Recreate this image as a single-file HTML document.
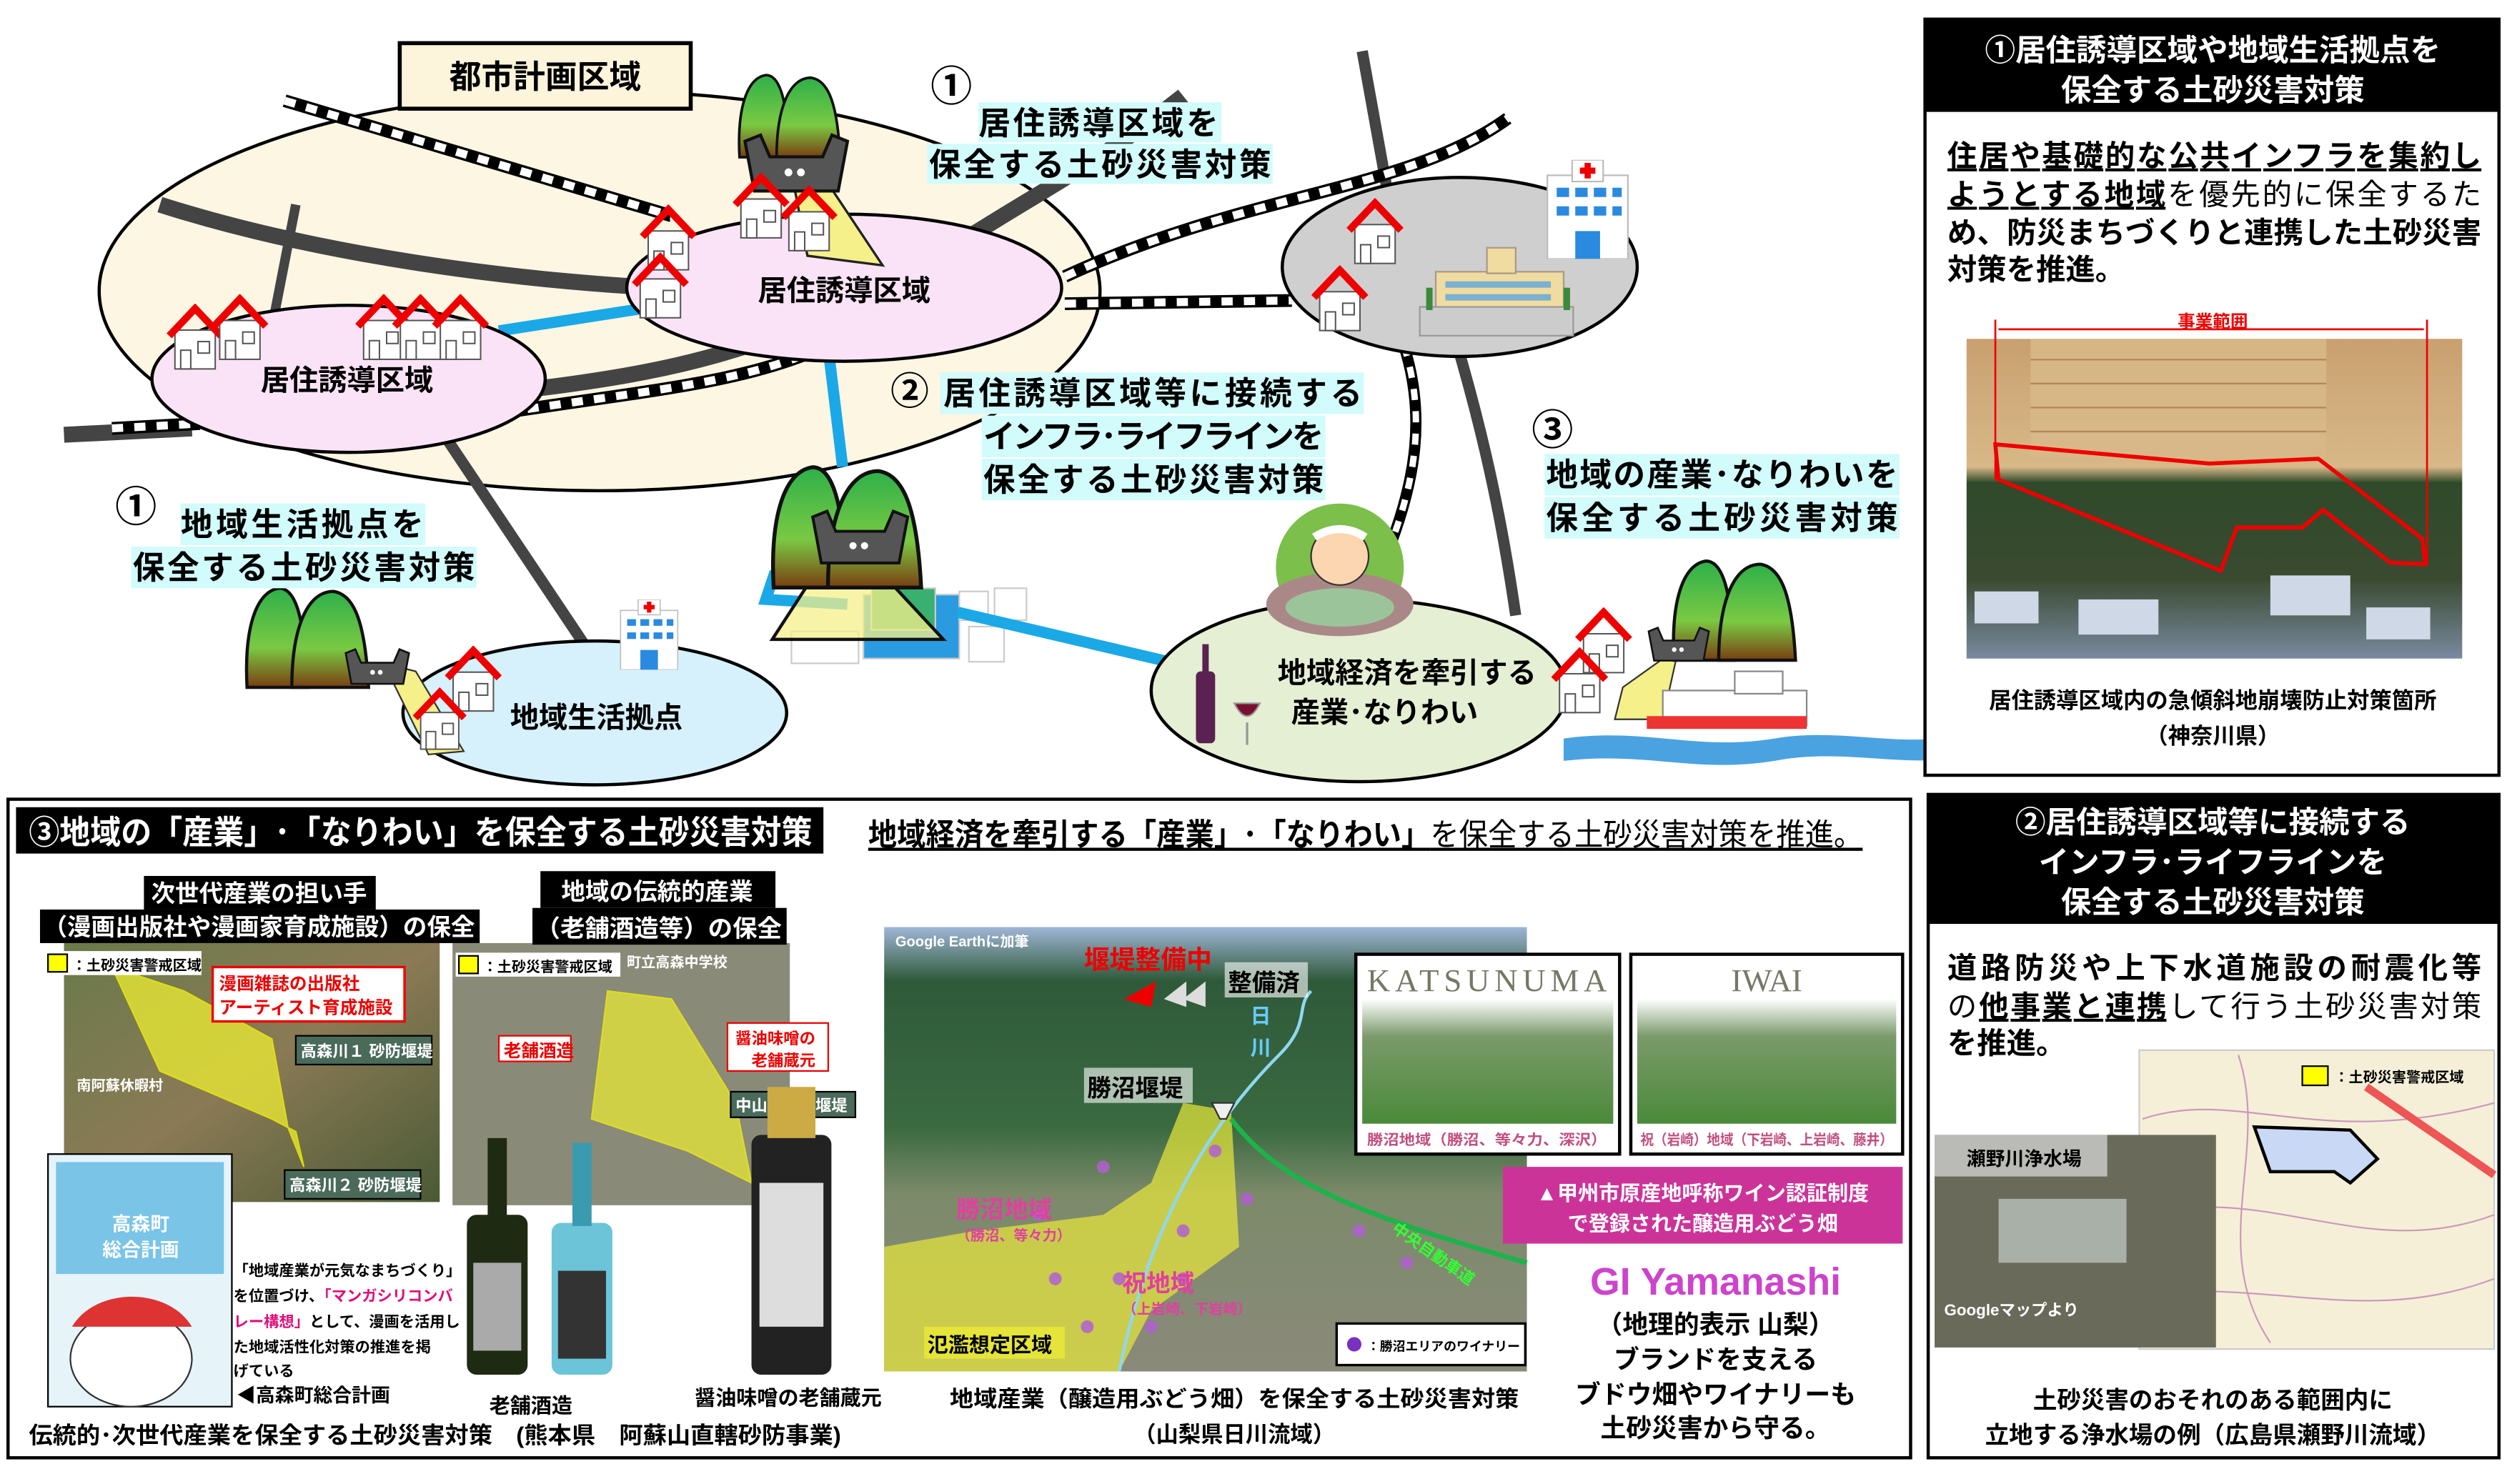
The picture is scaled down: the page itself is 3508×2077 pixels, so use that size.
<!DOCTYPE html>
<html><head><meta charset="utf-8"><style>
html,body{margin:0;padding:0;background:#fff;}
svg{display:block;}
text{font-family:"Liberation Sans","Noto Sans CJK JP",sans-serif;font-weight:bold;}
</style></head><body>
<svg width="3508" height="2077" viewBox="0 0 1568 928.4" xmlns="http://www.w3.org/2000/svg">
<defs>
<symbol id="house" viewBox="0 0 40 46">
<rect x="6" y="18" width="28" height="27" fill="#fff" stroke="#555" stroke-width="1"/>
<path d="M2 22 L20 3 L38 22" fill="none" stroke="#e00" stroke-width="5"/>
<rect x="10" y="32" width="7" height="13" fill="#fff" stroke="#555"/>
<rect x="22" y="26" width="8" height="8" fill="#fff" stroke="#555"/>
</symbol>
<linearGradient id="mg" x1="0" y1="0" x2="0" y2="1"><stop offset="0" stop-color="#2eb04a"/><stop offset="0.6" stop-color="#7ac943"/><stop offset="1" stop-color="#7a3e12"/></linearGradient>
<symbol id="mount" viewBox="0 0 80 70">
<path d="M2 68 C0 30 8 8 22 6 C34 6 38 30 40 68Z" fill="url(#mg)" stroke="#111" stroke-width="2"/>
<path d="M30 68 C30 30 40 8 56 8 C70 10 76 30 78 68Z" fill="url(#mg)" stroke="#111" stroke-width="2"/>
</symbol>
<symbol id="dam" viewBox="0 0 70 40">
<path d="M2 6 L12 2 L18 16 L52 16 L58 2 L68 6 L62 38 L8 38Z" fill="#555" stroke="#111" stroke-width="2"/>
<circle cx="30" cy="26" r="2.5" fill="#fff"/><circle cx="38" cy="26" r="2.5" fill="#fff"/>
</symbol>
<symbol id="hosp" viewBox="0 0 56 64">
<rect x="2" y="10" width="52" height="54" fill="#fff" stroke="#bbb"/>
<rect x="18" y="0" width="20" height="14" fill="#fff" stroke="#bbb"/>
<path d="M28 2 v10 M23 7 h10" stroke="#e00" stroke-width="4"/>
<g fill="#2a8ae0"><rect x="8" y="18" width="8" height="6"/><rect x="20" y="18" width="8" height="6"/><rect x="32" y="18" width="8" height="6"/><rect x="44" y="18" width="6" height="6"/>
<rect x="8" y="30" width="8" height="6"/><rect x="20" y="30" width="8" height="6"/><rect x="32" y="30" width="8" height="6"/><rect x="44" y="30" width="6" height="6"/>
<rect x="20" y="46" width="16" height="18"/></g>
</symbol>
<linearGradient id="sat" x1="0" y1="0" x2="1" y2="1"><stop offset="0" stop-color="#6a7a4a"/><stop offset="0.5" stop-color="#8a7a55"/><stop offset="1" stop-color="#4a5a35"/></linearGradient>
<linearGradient id="aer" x1="0" y1="0" x2="0" y2="1"><stop offset="0" stop-color="#9fb6d6"/><stop offset="0.12" stop-color="#2f5a3a"/><stop offset="0.45" stop-color="#3a6a40"/><stop offset="0.6" stop-color="#7c8a6a"/><stop offset="1" stop-color="#8a8a7a"/></linearGradient>
<linearGradient id="vine" x1="0" y1="0" x2="0" y2="1"><stop offset="0" stop-color="#fff"/><stop offset="0.3" stop-color="#7a9a6a"/><stop offset="1" stop-color="#4a8a3a"/></linearGradient>
<linearGradient id="apt" x1="0" y1="0" x2="0" y2="1"><stop offset="0" stop-color="#c9a070"/><stop offset="0.4" stop-color="#d8b888"/><stop offset="0.45" stop-color="#2f4a2a"/><stop offset="0.75" stop-color="#3a4a30"/><stop offset="1" stop-color="#7a8aa0"/></linearGradient>
</defs>

<!-- ===== Top diagram ===== -->
<ellipse cx="375" cy="182" rx="313" ry="125" fill="#fdf6e3" stroke="#000" stroke-width="2"/>
<g stroke="#444" stroke-width="10" fill="none">
<path d="M100 128 C200 160 320 175 410 180"/>
<path d="M600 152 C650 120 690 100 740 60"/>
<path d="M40 272 L120 268"/>
<path d="M320 245 C380 238 430 230 480 212"/>
<path d="M185 128 L170 205" stroke-width="6"/>
<path d="M275 268 L370 410" stroke-width="7"/>
<path d="M852 32 L870 132" stroke-width="7"/>
<path d="M912 218 C930 280 940 330 948 385" stroke-width="7"/>
</g>
<g fill="none">
<path d="M178 63 L420 135" stroke="#000" stroke-width="8"/><path d="M178 63 L420 135" stroke="#fff" stroke-width="5" stroke-dasharray="7 7"/>
<path d="M666 173 C780 120 880 120 943 74" stroke="#000" stroke-width="8"/><path d="M666 173 C780 120 880 120 943 74" stroke="#fff" stroke-width="5" stroke-dasharray="7 7"/>
<path d="M666 190 L808 188" stroke="#000" stroke-width="8"/><path d="M666 190 L808 188" stroke="#fff" stroke-width="5" stroke-dasharray="7 7"/>
<path d="M70 268 L125 265" stroke="#000" stroke-width="8"/><path d="M70 268 L125 265" stroke="#fff" stroke-width="5" stroke-dasharray="7 7"/>
<path d="M316 258 C400 245 460 240 508 220" stroke="#000" stroke-width="8"/><path d="M316 258 C400 245 460 240 508 220" stroke="#fff" stroke-width="5" stroke-dasharray="7 7"/>
<path d="M878 216 C892 260 885 300 870 340" stroke="#000" stroke-width="7"/><path d="M878 216 C892 260 885 300 870 340" stroke="#fff" stroke-width="4" stroke-dasharray="7 7"/>
</g>
<!-- water plant -->
<g stroke="#ccc" stroke-width="1">
<rect x="540" y="372" width="60" height="40" fill="#2a9be0"/>
<rect x="545" y="368" width="40" height="26" fill="#3ab070"/>
<rect x="600" y="370" width="18" height="18" fill="#fff"/><rect x="622" y="368" width="20" height="20" fill="#fff"/>
<rect x="606" y="392" width="22" height="22" fill="#fff"/>
<rect x="495" y="395" width="42" height="20" fill="#fff"/>
</g>
<g stroke="#1aa9e6" stroke-width="7" fill="none">
<path d="M312 207 L402 193"/>
<path d="M518 218 L527 292"/>
<path d="M535 354 L484 360 L479 375 L530 378"/>
<path d="M599 383 L731 414"/>
</g>
<ellipse cx="528" cy="180" rx="136" ry="46" fill="#fbe3f7" stroke="#000" stroke-width="2"/>
<ellipse cx="218" cy="237" rx="123" ry="46" fill="#fbe3f7" stroke="#000" stroke-width="2"/>
<ellipse cx="913" cy="167" rx="111" ry="56" fill="#cfcfcf" stroke="#000" stroke-width="2"/>
<ellipse cx="372" cy="446" rx="120" ry="45" fill="#d6f1fc" stroke="#000" stroke-width="2"/>
<ellipse cx="850" cy="432" rx="130" ry="57" fill="#e5efd3" stroke="#000" stroke-width="2"/>
<rect x="250" y="27" width="182" height="41" fill="#fdf4dc" stroke="#000" stroke-width="2.5"/>
<text x="341" y="55" font-size="20" text-anchor="middle">都市計画区域</text>

<polygon points="497,118 520,118 552,166 505,160" fill="#f5f08a" stroke="#222" stroke-width="1.5"/>
<polygon points="520,343 537,343 590,400 483,400" fill="#f5f08a" fill-opacity="0.75" stroke="#111" stroke-width="2"/>
<polygon points="240,415 260,420 290,470 268,472" fill="#f5f08a" stroke="#333"/>
<polygon points="1050,405 1040,450 1010,450 1015,430" fill="#f5f08a" stroke="#333"/>

<use href="#mount" x="458" y="42" width="72" height="58"/>
<use href="#dam" x="464" y="82" width="68" height="40"/>
<use href="#mount" x="479" y="285" width="102" height="85"/>
<use href="#dam" x="501" y="318" width="74" height="36"/>
<use href="#mount" x="150" y="362" width="85" height="70"/>
<use href="#dam" x="215" y="398" width="42" height="38"/>
<use href="#mount" x="1045" y="340" width="80" height="80"/>
<use href="#dam" x="1030" y="385" width="40" height="36"/>
<use href="#house" x="458" y="108" width="36" height="42"/>
<use href="#house" x="488" y="116" width="36" height="42"/>
<use href="#house" x="400" y="128" width="36" height="42"/>
<use href="#house" x="395" y="158" width="36" height="42"/>
<use href="#house" x="104" y="190" width="36" height="42"/>
<use href="#house" x="132" y="184" width="36" height="42"/>
<use href="#house" x="222" y="184" width="36" height="42"/>
<use href="#house" x="245" y="184" width="36" height="42"/>
<use href="#house" x="270" y="184" width="36" height="42"/>
<use href="#house" x="842" y="124" width="36" height="42"/>
<use href="#house" x="820" y="166" width="36" height="42"/>
<use href="#house" x="278" y="404" width="36" height="42"/>
<use href="#house" x="258" y="430" width="34" height="40"/>
<use href="#house" x="985" y="380" width="36" height="42"/>
<use href="#house" x="970" y="405" width="36" height="42"/>
<use href="#hosp" x="965" y="100" width="56" height="62"/>
<use href="#hosp" x="385" y="375" width="42" height="44"/>
<rect x="898" y="170" width="80" height="24" fill="#f0dca0" stroke="#a98"/>
<rect x="930" y="155" width="18" height="16" fill="#f0dca0" stroke="#a98"/>
<g fill="#7ab0d0"><rect x="904" y="176" width="66" height="4"/><rect x="904" y="184" width="66" height="4"/></g>
<rect x="888" y="192" width="96" height="18" fill="#ccc" stroke="#999"/>
<g fill="#3a8a3a"><rect x="892" y="180" width="4" height="14"/><rect x="978" y="180" width="4" height="14"/></g>
<circle cx="838" cy="355" r="40" fill="#7cbf4a"/>
<ellipse cx="838" cy="378" rx="46" ry="20" fill="#a88" />
<ellipse cx="838" cy="380" rx="34" ry="12" fill="#9cc49a"/>
<circle cx="838" cy="348" r="18" fill="#fcd6b0" stroke="#333"/>
<path d="M822 336 Q838 326 854 336" stroke="#fff" stroke-width="5" fill="none"/>
<rect x="748" y="420" width="12" height="45" rx="3" fill="#5a2250"/>
<rect x="752" y="403" width="4" height="18" fill="#5a2250"/>
<path d="M772 440 Q780 456 788 440 Z" fill="#7a1030" stroke="#999"/><line x1="780" y1="452" x2="780" y2="466" stroke="#999" stroke-width="1.5"/>
<rect x="1040" y="432" width="90" height="22" fill="#fff" stroke="#888"/>
<rect x="1085" y="420" width="30" height="14" fill="#fff" stroke="#888"/>
<rect x="1030" y="448" width="100" height="8" fill="#e33"/>
<path d="M978 462 C1030 455 1060 470 1110 462 C1150 455 1190 468 1222 460 L1224 474 C1190 480 1150 468 1110 476 C1060 484 1030 470 978 476 Z" fill="#4aa3e0"/>

<g font-size="18" text-anchor="middle">
<text x="528" y="188">居住誘導区域</text>
<text x="217" y="244">居住誘導区域</text>
<text x="373" y="455">地域生活拠点</text>
<text x="880" y="427">地域経済を牽引する</text>
<text x="866" y="452">産業･なりわい</text>
</g>
<g fill="#d2fbfb">
<rect x="612" y="64" width="152" height="25"/><rect x="580" y="90" width="216" height="25"/>
<rect x="588" y="233" width="265" height="26"/><rect x="614" y="260" width="215" height="26"/><rect x="614" y="287" width="215" height="26"/>
<rect x="966" y="284" width="222" height="26"/><rect x="966" y="311" width="222" height="26"/>
<rect x="113" y="315" width="153" height="26"/><rect x="82" y="342" width="216" height="26"/>
</g>
<g font-size="20">
<text x="582" y="63" font-size="26" font-weight="normal">①</text>
<text x="612" y="84" textLength="150">居住誘導区域を</text>
<text x="581" y="110" textLength="214">保全する土砂災害対策</text>
<text x="557" y="253" font-size="24" font-weight="normal">②</text>
<text x="590" y="253" textLength="262">居住誘導区域等に接続する</text>
<text x="615" y="280" textLength="213">インフラ･ライフラインを</text>
<text x="615" y="307" textLength="213">保全する土砂災害対策</text>
<text x="958" y="278" font-size="26" font-weight="normal">③</text>
<text x="967" y="304" textLength="220">地域の産業･なりわいを</text>
<text x="967" y="331" textLength="220">保全する土砂災害対策</text>
<text x="72" y="326" font-size="26" font-weight="normal">①</text>
<text x="113" y="335" textLength="152">地域生活拠点を</text>
<text x="83" y="362" textLength="214">保全する土砂災害対策</text>
</g>

<!-- ===== Right top panel ===== -->
<rect x="1204" y="12" width="359" height="473" fill="#fff" stroke="#000" stroke-width="2"/>
<rect x="1204" y="12" width="359" height="58" fill="#000"/>
<g font-size="19" fill="#fff" text-anchor="middle"><text x="1384" y="38">①居住誘導区域や地域生活拠点を</text><text x="1384" y="63">保全する土砂災害対策</text></g>
<g font-size="18.5">
<text x="1218" y="104" text-decoration="underline" textLength="334">住居や基礎的な公共インフラを集約し</text>
<text x="1218" y="128" textLength="334"><tspan text-decoration="underline">ようとする地域</tspan><tspan font-weight="normal">を優先的に保全するた</tspan></text>
<text x="1218" y="152" font-weight="normal" textLength="334">め、防災まちづくりと連携した土砂災害</text>
<text x="1218" y="175" font-weight="normal">対策を推進。</text>
</g>
<rect x="1230" y="212" width="310" height="200" fill="url(#apt)"/>
<rect x="1270" y="212" width="185" height="75" fill="#d8b888" opacity="0.9"/>
<g stroke="#b08858" stroke-width="1"><line x1="1270" y1="225" x2="1455" y2="225"/><line x1="1270" y1="240" x2="1455" y2="240"/><line x1="1270" y1="255" x2="1455" y2="255"/><line x1="1270" y1="270" x2="1455" y2="270"/></g>
<g fill="#cfd8e6"><rect x="1235" y="370" width="40" height="20"/><rect x="1300" y="375" width="50" height="22"/><rect x="1420" y="360" width="50" height="25"/><rect x="1480" y="380" width="40" height="20"/></g>
<path d="M1248 278 L1382 290 L1450 287 L1515 337 L1517 353 L1495 352 L1453 319 L1440 330 L1399 330 L1389 357 L1250 300Z" fill="none" stroke="#e00" stroke-width="2.5"/>
<path d="M1248 200 V300 M1518 200 V353 M1250 206 H1516" stroke="#e00" stroke-width="1.2" fill="none"/>
<text x="1384" y="205" font-size="11" fill="#e00" text-anchor="middle">事業範囲</text>
<g font-size="14" text-anchor="middle"><text x="1384" y="443">居住誘導区域内の急傾斜地崩壊防止対策箇所</text><text x="1384" y="465">（神奈川県）</text></g>

<!-- ===== Right bottom panel ===== -->
<rect x="1206" y="497" width="357" height="415" fill="#fff" stroke="#000" stroke-width="2"/>
<rect x="1206" y="497" width="357" height="81" fill="#000"/>
<g font-size="19" fill="#fff" text-anchor="middle" font-weight="normal"><text x="1384" y="521">②居住誘導区域等に接続する</text><text x="1384" y="546">インフラ･ライフラインを</text><text x="1384" y="571">保全する土砂災害対策</text></g>
<g font-size="18.5">
<text x="1218" y="612" font-weight="normal" textLength="334">道路防災や上下水道施設の耐震化等</text>
<text x="1218" y="636" textLength="334"><tspan font-weight="normal">の</tspan><tspan text-decoration="underline">他事業と連携</tspan><tspan font-weight="normal">して行う土砂災害対策</tspan></text>
<text x="1218" y="659" font-weight="normal">を推進。</text>
</g>
<rect x="1338" y="657" width="222" height="187" fill="#f5efd8" stroke="#ccc"/>
<g stroke="#c9b" stroke-width="1" fill="none"><path d="M1340 700 C1400 680 1450 720 1560 690"/><path d="M1340 760 C1420 740 1480 790 1560 760"/><path d="M1340 810 C1420 800 1480 830 1560 800"/><path d="M1400 660 C1420 720 1380 780 1420 840"/></g>
<path d="M1480 680 L1560 735" stroke="#e55" stroke-width="5"/>
<polygon points="1410,705 1470,707 1487,725 1470,740 1460,733 1420,733" fill="#c9d8f4" stroke="#000" stroke-width="2"/>
<rect x="1440" y="667" width="16" height="12" fill="#ff0" stroke="#000"/>
<text x="1460" y="677" font-size="9" font-weight="normal">：土砂災害警戒区域</text>
<rect x="1210" y="710" width="176" height="133" fill="#6a6a5a"/>
<rect x="1250" y="750" width="80" height="40" fill="#a9b0a8"/>
<rect x="1210" y="710" width="108" height="26" fill="#ddd" opacity="0.7"/>
<text x="1230" y="729" font-size="12">瀬野川浄水場</text>
<text x="1216" y="823" font-size="10" fill="#fff">Googleマップより</text>
<g font-size="15" text-anchor="middle"><text x="1384" y="881">土砂災害のおそれのある範囲内に</text><text x="1384" y="903">立地する浄水場の例（広島県瀬野川流域）</text></g>

<!-- ===== Bottom left panel ===== -->
<rect x="5" y="500" width="1190" height="412" fill="#fff" stroke="#000" stroke-width="2"/>
<rect x="10" y="505" width="505" height="29" fill="#000"/>
<text x="18" y="528" font-size="20.5" fill="#fff" font-weight="normal" textLength="490" lengthAdjust="spacingAndGlyphs">③地域の「産業」･「なりわい」を保全する土砂災害対策</text>
<text x="543" y="529" font-size="19.5" text-decoration="underline" textLength="622" lengthAdjust="spacingAndGlyphs">地域経済を牽引する「産業」･「なりわい」<tspan font-weight="normal">を保全する土砂災害対策を推進。</tspan></text>

<rect x="40" y="590" width="235" height="162" fill="url(#sat)"/>
<polygon points="70,605 100,670 170,700 185,708 190,730 180,705 170,650 115,620" fill="#eeee33" opacity="0.75" stroke="#ff0"/>
<rect x="28" y="595" width="98" height="15" fill="#fff"/><rect x="30" y="597" width="12" height="11" fill="#ff0" stroke="#000"/>
<text x="45" y="607" font-size="9" font-weight="normal">：土砂災害警戒区域</text>
<rect x="133" y="605" width="120" height="34" fill="#fff" stroke="#e00" stroke-width="1.5"/>
<text x="137" y="619" font-size="11" fill="#e00" font-weight="normal">漫画雑誌の出版社</text><text x="137" y="634" font-size="11" fill="#e00" font-weight="normal">アーティスト育成施設</text>
<rect x="185" y="648" width="85" height="18" fill="#4a6a5a" stroke="#000"/><text x="188" y="661" font-size="10" fill="#fff" font-weight="normal">高森川１ 砂防堰堤</text>
<rect x="178" y="732" width="85" height="18" fill="#4a6a5a" stroke="#000"/><text x="181" y="745" font-size="10" fill="#fff" font-weight="normal">高森川２ 砂防堰堤</text>
<text x="48" y="682" font-size="9" fill="#fff" font-weight="normal">南阿蘇休暇村</text>
<rect x="283" y="590" width="211" height="164" fill="#8a8a78"/>
<polygon points="380,620 420,625 460,690 470,740 430,720 370,700" fill="#eeee33" opacity="0.7" stroke="#ff0"/>
<rect x="285" y="596" width="103" height="15" fill="#fff"/><rect x="287" y="598" width="12" height="11" fill="#ff0" stroke="#000"/>
<text x="302" y="608" font-size="9" font-weight="normal">：土砂災害警戒区域</text>
<text x="392" y="605" font-size="9" font-weight="normal" fill="#fff">町立高森中学校</text>
<rect x="312" y="648" width="45" height="16" fill="#fff" stroke="#e00"/><text x="315" y="661" font-size="11" fill="#e00" font-weight="normal">老舗酒造</text>
<rect x="455" y="640" width="63" height="30" fill="#fff" stroke="#e00"/><text x="460" y="653" font-size="10" fill="#e00" font-weight="normal">醤油味噌の</text><text x="470" y="667" font-size="10" fill="#e00" font-weight="normal">老舗蔵元</text>
<rect x="457" y="683" width="78" height="16" fill="#4a6a5a" stroke="#000"/><text x="460" y="695" font-size="10" fill="#fff" font-weight="normal">中山川砂防堰堤</text>
<rect x="90" y="548" width="145" height="21" fill="#000"/><rect x="25" y="569" width="275" height="21" fill="#000"/>
<rect x="338" y="545" width="147" height="23" fill="#000"/><rect x="333" y="568" width="159" height="23" fill="#000"/>
<g font-size="15" fill="#fff" text-anchor="middle"><text x="162" y="564">次世代産業の担い手</text><text x="162" y="585" textLength="270" lengthAdjust="spacingAndGlyphs">（漫画出版社や漫画家育成施設）の保全</text><text x="411" y="563">地域の伝統的産業</text><text x="412" y="586" textLength="154" lengthAdjust="spacingAndGlyphs">（老舗酒造等）の保全</text></g>
<rect x="30" y="722" width="115" height="158" fill="#e6f4fa" stroke="#000"/>
<rect x="35" y="727" width="105" height="70" fill="#7ac4e8"/>
<text x="88" y="770" font-size="12" fill="#fff" text-anchor="middle">高森町</text><text x="88" y="786" font-size="12" fill="#fff" text-anchor="middle">総合計画</text>
<ellipse cx="82" cy="850" rx="38" ry="30" fill="#fff" stroke="#333"/><path d="M45 830 C60 805 105 805 120 830Z" fill="#d33"/>
<g font-size="9.5" font-weight="normal"><text x="146" y="798">「地域産業が元気なまちづくり」</text><text x="146" y="814">を位置づけ、<tspan fill="#e0107a">「マンガシリコンバ</tspan></text><text x="146" y="830"><tspan fill="#e0107a">レー構想」</tspan>として、漫画を活用し</text><text x="146" y="846">た地域活性化対策の推進を掲</text><text x="146" y="861">げている</text></g>
<text x="148" y="877" font-size="12">◀高森町総合計画</text>
<rect x="292" y="760" width="38" height="100" rx="6" fill="#1e2a12"/><rect x="305" y="712" width="12" height="50" fill="#1e2a12"/><rect x="296" y="790" width="30" height="55" fill="#aaa"/>
<rect x="345" y="765" width="38" height="95" rx="6" fill="#6cc4d8"/><rect x="358" y="715" width="12" height="52" fill="#3a9ab0"/><rect x="349" y="795" width="30" height="55" fill="#333"/>
<rect x="470" y="710" width="50" height="150" rx="6" fill="#222"/><rect x="480" y="680" width="30" height="32" fill="#ccaa44"/><rect x="475" y="740" width="40" height="90" fill="#ddd"/>
<text x="332" y="884" font-size="13" text-anchor="middle">老舗酒造</text>
<text x="493" y="879" font-size="13" text-anchor="middle">醤油味噌の老舗蔵元</text>
<text x="18" y="903" font-size="14.5" textLength="508" lengthAdjust="spacingAndGlyphs">伝統的･次世代産業を保全する土砂災害対策　(熊本県　阿蘇山直轄砂防事業)</text>

<rect x="553" y="580" width="402" height="278" fill="url(#aer)"/>
<polygon points="740,690 770,695 775,780 720,820 700,858 553,858 553,780 610,770 690,760 720,740" fill="#e8e83a" opacity="0.7"/>
<path d="M700 858 C720 760 760 700 800 660 C820 640 810 630 820 620" stroke="#8fd8f0" stroke-width="2" fill="none"/>
<path d="M770 700 C800 740 850 760 955 790" stroke="#1db34a" stroke-width="3" fill="none"/>
<g fill="#b060d0" opacity="0.85"><circle cx="650" cy="760" r="4"/><circle cx="690" cy="730" r="4"/><circle cx="740" cy="770" r="4"/><circle cx="760" cy="720" r="4"/><circle cx="660" cy="800" r="4"/><circle cx="700" cy="800" r="4"/><circle cx="740" cy="800" r="4"/><circle cx="680" cy="830" r="4"/><circle cx="720" cy="830" r="4"/><circle cx="850" cy="770" r="4"/><circle cx="880" cy="790" r="4"/><circle cx="780" cy="750" r="4"/></g>
<text x="560" y="592" font-size="9" fill="#fff" font-weight="normal">Google Earthに加筆</text>
<text x="678" y="606" font-size="16" fill="#e00">堰堤整備中</text>
<polygon points="703,625 723,614 720,630" fill="#e00"/><polygon points="728,625 742,614 742,630" fill="#ddd"/><polygon points="740,625 754,614 754,630" fill="#ddd"/>
<rect x="766" y="602" width="52" height="22" fill="#fff" opacity="0.6"/><text x="768" y="620" font-size="15">整備済</text>
<rect x="678" y="668" width="68" height="22" fill="#fff" opacity="0.6"/><text x="680" y="686" font-size="15">勝沼堰堤</text>
<text x="782" y="640" font-size="13" fill="#6cf" font-weight="normal">日</text><text x="782" y="660" font-size="13" fill="#6cf" font-weight="normal">川</text>
<polygon points="758,690 772,690 767,700 763,700" fill="#eee" stroke="#333"/>
<text x="598" y="762" font-size="15" fill="#e040a0">勝沼地域</text><text x="598" y="776" font-size="9" fill="#e040a0" font-weight="normal">（勝沼、等々力）</text>
<text x="702" y="808" font-size="15" fill="#e040a0">祝地域</text><text x="702" y="822" font-size="9" fill="#e040a0" font-weight="normal">（上岩崎、下岩崎）</text>
<rect x="578" y="830" width="88" height="20" fill="#ee3" opacity="0.7"/><text x="580" y="846" font-size="13">氾濫想定区域</text>
<text x="870" y="770" font-size="10" fill="#3f3" transform="rotate(35 870 770)">中央自動車道</text>
<rect x="836" y="828" width="118" height="26" fill="#fff" stroke="#000" stroke-width="1.5"/><circle cx="847" cy="841" r="4.5" fill="#7a30c0"/><text x="855" y="845" font-size="8" font-weight="normal">：勝沼エリアのワイナリー</text>
<rect x="848" y="597" width="165" height="125" fill="#fff" stroke="#000" stroke-width="2"/>
<rect x="852" y="625" width="157" height="78" fill="url(#vine)"/>
<text x="930" y="620" font-size="20" fill="#776" text-anchor="middle" style="font-family:'Liberation Serif',serif;font-weight:normal" textLength="150">KATSUNUMA</text>
<text x="930" y="716" font-size="9" fill="#c05080" text-anchor="middle" font-weight="normal" textLength="150" lengthAdjust="spacingAndGlyphs">勝沼地域（勝沼、等々力、深沢）</text>
<rect x="1020" y="597" width="170" height="125" fill="#fff" stroke="#000" stroke-width="2"/>
<rect x="1024" y="625" width="162" height="78" fill="url(#vine)"/>
<text x="1105" y="620" font-size="20" fill="#776" text-anchor="middle" style="font-family:'Liberation Serif',serif;font-weight:normal">IWAI</text>
<text x="1105" y="716" font-size="9" fill="#c05080" text-anchor="middle" font-weight="normal" textLength="158" lengthAdjust="spacingAndGlyphs">祝（岩崎）地域（下岩崎、上岩崎、藤井）</text>
<rect x="940" y="730" width="250" height="48" fill="#cc3399"/>
<g font-size="13" fill="#fff" text-anchor="middle" font-weight="normal"><text x="1065" y="751">▲甲州市原産地呼称ワイン認証制度</text><text x="1065" y="770">で登録された醸造用ぶどう畑</text></g>
<text x="1073" y="810" font-size="24" fill="#cc44cc" text-anchor="middle">GI Yamanashi</text>
<g font-size="16" text-anchor="middle"><text x="1073" y="834">（地理的表示 山梨）</text><text x="1073" y="856">ブランドを支える</text><text x="1073" y="878">ブドウ畑やワイナリーも</text><text x="1073" y="899">土砂災害から守る。</text></g>
<g font-size="14" text-anchor="middle"><text x="772" y="880" textLength="356" lengthAdjust="spacingAndGlyphs">地域産業（醸造用ぶどう畑）を保全する土砂災害対策</text><text x="772" y="902">（山梨県日川流域）</text></g>
</svg>
</body></html>
